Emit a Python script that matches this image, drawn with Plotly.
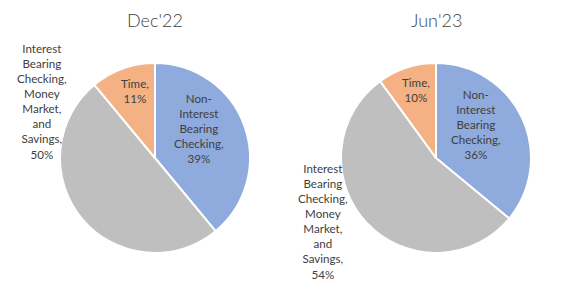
import plotly.graph_objects as go

categories = ["Non-Interest Bearing Checking", "Interest Bearing Checking, Money Market, and Savings", "Time"]
label_lines = [
    ["Non-", "Interest", "Bearing", "Checking,"],
    ["Interest", "Bearing", "Checking,", "Money", "Market,", "and", "Savings,"],
    ["Time,"],
]
titles = ["Dec'22", "Jun'23"]
dec22 = [39, 50, 11]
jun23 = [36, 54, 10]
colors = ["#8FAADC", "#BFBFBF", "#F4B183"]

W, H = 563, 294
FONT = "Lato, Open Sans, sans-serif"

def px(x):
    return x / W

def py(y):
    return 1 - y / H

fig = go.Figure()
pies = [
    (dec22, (60, 250), (63, 253)),
    (jun23, (341, 531), (63, 253)),
]
for vals, (x0, x1), (y0, y1) in pies:
    fig.add_trace(go.Pie(
        labels=categories, values=vals, sort=False, direction="clockwise", rotation=0,
        marker=dict(colors=colors, line=dict(color="white", width=2)),
        textinfo="none", hoverinfo="label+percent", showlegend=False,
        domain=dict(x=[px(x0), px(x1)], y=[py(y1), py(y0)]),
    ))

# titles
for t, cx in zip(titles, [155, 436]):
    fig.add_annotation(text=t, x=px(cx), y=py(20), xref="paper", yref="paper",
                       showarrow=False, xanchor="center", yanchor="middle",
                       font=dict(size=18, color="#3f3f3f", family=FONT, weight=300))

# label positions (pixel centres)
label_pos = [
    [(199, 128), (42, 101), (135, 91)],
    [(476, 125), (323, 222), (416, 90)],
]
for vals, positions in zip([dec22, jun23], label_pos):
    for i, (v, (cx, cy)) in enumerate(zip(vals, positions)):
        text = "<br>".join(label_lines[i] + [f"{v}%"])
        fig.add_annotation(text=text, x=px(cx), y=py(cy), xref="paper", yref="paper",
                           showarrow=False, xanchor="center", yanchor="middle",
                           font=dict(size=11.6, color="#404040", family=FONT))

fig.update_layout(width=W, height=H, margin=dict(l=0, r=0, t=0, b=0),
                  paper_bgcolor="white", plot_bgcolor="white")
fig.write_html("out.html")
